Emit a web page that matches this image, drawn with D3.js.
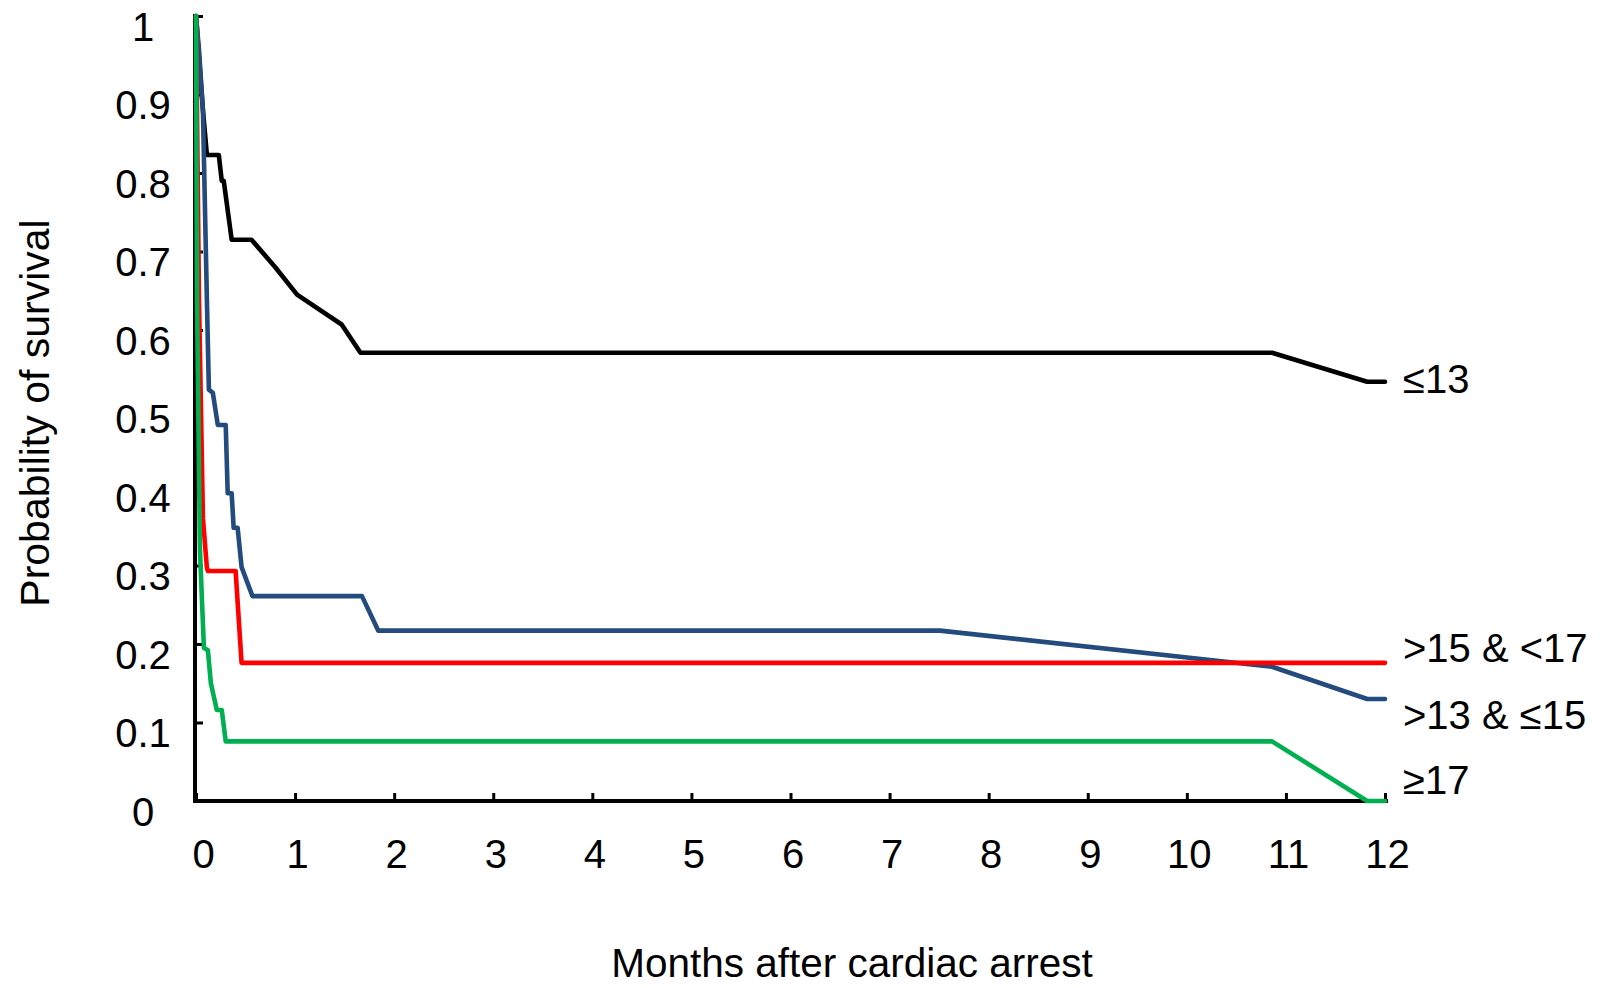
<!DOCTYPE html>
<html>
<head>
<meta charset="utf-8">
<script src="https://cdn.jsdelivr.net/npm/d3@7"></script>
<style>
  html, body { margin: 0; padding: 0; background: #fff; }
  svg { display: block; font-family: Arial, "Liberation Sans", Helvetica, sans-serif; }
</style>
</head>
<body>
<svg id="chart" width="1603" height="988"></svg>
<script>
// ---- data ----
const xTicks = [0,1,2,3,4,5,6,7,8,9,10,11,12];
const yTicks = [0,0.1,0.2,0.3,0.4,0.5,0.6,0.7,0.8,0.9,1];
const yTickLabels = ["0","0.1","0.2","0.3","0.4","0.5","0.6","0.7","0.8","0.9","1"];

const seriesNames = ["≤13", ">13 & ≤15", ">15 & <17", "≥17"];
const seriesColors = ["#000000", "#234B7D", "#FF0000", "#00B050"];

const le13Months = [0, 0.07, 0.11, 0.23, 0.26, 0.28, 0.36, 0.56, 0.80, 1.02, 1.47, 1.66, 10.86, 11.82, 12];
const le13Surv   = [1, 0.88, 0.823, 0.823, 0.79, 0.79, 0.715, 0.715, 0.68, 0.645, 0.607, 0.571, 0.571, 0.534, 0.534];

const mid13Months = [0, 0.03, 0.07, 0.11, 0.13, 0.17, 0.22, 0.30, 0.32, 0.36, 0.38, 0.42, 0.46, 0.57, 1.675, 1.84, 7.51, 10.86, 11.82, 12];
const mid13Surv   = [1, 0.957, 0.88, 0.638, 0.524, 0.52, 0.479, 0.479, 0.392, 0.392, 0.348, 0.348, 0.298, 0.261, 0.261, 0.217, 0.217, 0.171, 0.13, 0.13];

const mid15Months = [0, 0.03, 0.07, 0.11, 0.12, 0.40, 0.46, 12];
const mid15Surv   = [1, 0.64, 0.36, 0.297, 0.293, 0.293, 0.176, 0.176];

const ge17Months = [0, 0.01, 0.04, 0.06, 0.08, 0.12, 0.15, 0.21, 0.26, 0.30, 10.86, 11.82, 12];
const ge17Surv   = [1, 0.638, 0.32, 0.256, 0.195, 0.192, 0.15, 0.116, 0.116, 0.076, 0.076, 0, 0];

const allMonths = [le13Months, mid13Months, mid15Months, ge17Months];
const allSurv = [le13Surv, mid13Surv, mid15Surv, ge17Surv];
const labelBaselineY = [393, 729, 662, 794];

// ---- layout ----
const svg = d3.select("#chart");
const x = d3.scaleLinear().domain([0, 12]).range([196, 1385]);
const y = d3.scaleLinear().domain([0, 1]).range([801, 16]);

// axes
const xAxis = d3.axisBottom(x).tickValues(xTicks).tickSizeInner(-8).tickSizeOuter(0).tickFormat(d3.format("d"));
const gx = svg.append("g").attr("transform", `translate(0,${y(0)})`).call(xAxis);
gx.select(".domain").attr("d", `M193,0H1388`).attr("stroke", "#000").attr("stroke-width", 4);
gx.selectAll(".tick line").attr("stroke", "#000").attr("stroke-width", 3);
gx.selectAll(".tick text")
  .attr("y", 67).attr("dy", 0)
  .attr("dx", d => d === 0 ? 7 : 2)
  .attr("font-size", 40).attr("fill", "#000")
  .attr("font-family", "Arial, 'Liberation Sans', sans-serif");

const yAxis = d3.axisLeft(y).tickValues(yTicks).tickSizeInner(-8).tickSizeOuter(0)
  .tickFormat((d, i) => yTickLabels[i]);
const gy = svg.append("g").attr("transform", `translate(${x(0) - 1},0)`).call(yAxis);
gy.select(".domain").attr("d", `M0,${y(1) - 2}V${y(0) + 2}`).attr("stroke", "#000").attr("stroke-width", 4);
gy.selectAll(".tick line").attr("stroke", "#000").attr("stroke-width", 3);
gy.selectAll(".tick text")
  .attr("x", -52).attr("dy", 0).attr("y", 24)
  .attr("text-anchor", "middle")
  .attr("font-size", 40).attr("fill", "#000")
  .attr("font-family", "Arial, 'Liberation Sans', sans-serif");

// lines
const line = d3.line().x(d => x(d[0])).y(d => y(d[1])).curve(d3.curveLinear);
allMonths.forEach((m, i) => {
  const pts = m.map((t, j) => [t, allSurv[i][j]]);
  svg.append("path")
    .datum(pts)
    .attr("d", line)
    .attr("fill", "none")
    .attr("stroke", seriesColors[i])
    .attr("stroke-width", 4.6)
    .attr("stroke-linejoin", "round")
    .attr("stroke-linecap", "round");
});

// series labels at right
seriesNames.forEach((name, i) => {
  svg.append("text")
    .attr("x", 1403)
    .attr("y", labelBaselineY[i])
    .attr("font-size", 40)
    .attr("fill", "#000")
    .text(name);
});

// axis titles
svg.append("text")
  .attr("x", 852).attr("y", 977)
  .attr("text-anchor", "middle")
  .attr("font-size", 40.5)
  .attr("fill", "#000")
  .text("Months after cardiac arrest");

svg.append("text")
  .attr("transform", "translate(49,413) rotate(-90)")
  .attr("text-anchor", "middle")
  .attr("font-size", 41)
  .attr("fill", "#000")
  .text("Probability of survival");
</script>
</body>
</html>
